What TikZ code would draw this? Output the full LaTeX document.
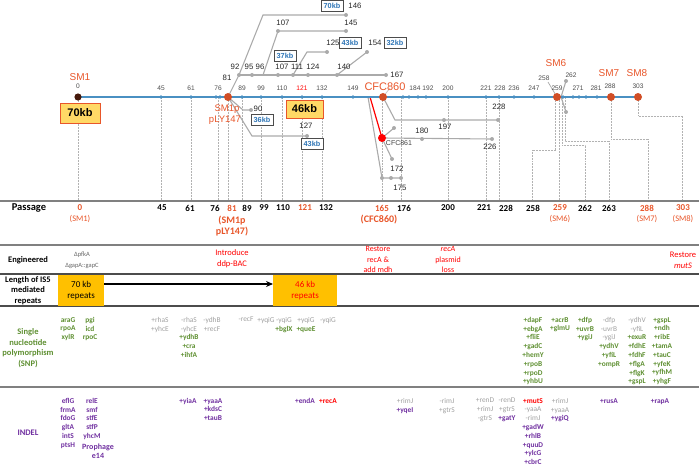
\documentclass[tikz,border=0pt]{standalone}
\usepackage{fontspec}
\setmainfont{Carlito}
\newfontfamily\arialf{Liberation Sans}
\usetikzlibrary{arrows.meta}
\definecolor{bl}{HTML}{4A90C2}
\definecolor{orng}{HTML}{E8562A}
\definecolor{snp}{HTML}{5E8F31}
\definecolor{pur}{HTML}{7030A0}
\definecolor{gtx}{HTML}{A0A0A0}
\definecolor{tl}{HTML}{AAAAAA}
\definecolor{kbb}{HTML}{2E75B6}
\definecolor{ylw}{HTML}{FFC000}
\definecolor{ylw2}{HTML}{FFD966}
\definecolor{rl}{HTML}{808080}
\definecolor{rd}{HTML}{FF0000}
\newcommand\gn[1]{\textcolor{snp}{\bfseries #1}}
\newcommand\gy[1]{\textcolor{gtx}{#1}}
\newcommand\pu[1]{\textcolor{pur}{\bfseries #1}}
\newcommand\rdd[1]{\textcolor{rd}{\bfseries #1}}
\begin{document}
\begin{tikzpicture}[x=1pt,y=-1pt,
  nl/.style={font=\arialf\fontsize{6.6}{7}\selectfont, text=black!70, inner sep=0},
  tlab/.style={font=\arialf\fontsize{7.8}{8}\selectfont, text=black!85, inner sep=0},
  sml/.style={font=\arialf\fontsize{10}{11}\selectfont, text=orng, inner sep=0},
  kbbox/.style={draw=black!70, line width=0.6, fill=white, text=kbb, font=\arialf\bfseries\fontsize{7.3}{8}\selectfont, inner sep=0, minimum width=22, minimum height=11},
  ybox/.style={draw=orng, line width=0.8, fill=ylw2, font=\arialf\bfseries\fontsize{11}{12}\selectfont, inner sep=0},
  tline/.style={tl, line width=1.1},
  dl/.style={black!30, densely dotted, line width=0.5},
  rowline/.style={rl, line width=1.3},
  pl/.style={font=\bfseries\fontsize{9}{10}\selectfont, inner sep=0},
  rowlab/.style={font=\bfseries\fontsize{8.5}{10.5}\selectfont, align=center, inner sep=0},
  gcol/.style={font=\fontsize{7.4}{8.8}\selectfont, align=center, anchor=north, inner sep=0},
  redtxt/.style={font=\fontsize{8}{10.5}\selectfont, text=rd, align=center, inner sep=0}
]
\useasboundingbox (0,0) rectangle (699,468);

% ---------- dotted drop lines ----------
\foreach \x in {78,161,191,218,228,242,261,282,302,322,382,401,448,486,499,559}
  \draw[dl] (\x,97) -- (\x,201);
\draw[dl] (555,97) -- (555,150) -- (532,150) -- (532,201);
\draw[dl] (562,97) -- (562,145) -- (585,145) -- (585,201);
\draw[dl] (565,97) -- (565,141) -- (609,141) -- (609,201);
\draw[dl] (611,97) -- (611,139) -- (648,139) -- (648,201);
\draw[dl] (638,97) -- (638,116) -- (682,116) -- (682,201);

% ---------- tree above ----------
\coordinate (sm1p) at (228,97);
\coordinate (a92) at (239,75);
\coordinate (a95) at (252,75);
\coordinate (a96) at (263,75);
\coordinate (a107) at (278,75);
\coordinate (a111) at (293,75);
\coordinate (a124) at (308,75);
\coordinate (a140) at (337,75);
\coordinate (a167) at (386,75);
\coordinate (b1) at (263,15);
\coordinate (b146) at (346,15);
\coordinate (c1) at (278,31);
\coordinate (c145) at (346,31);
\coordinate (d1) at (307,52);
\coordinate (d125) at (327,52);
\coordinate (e154) at (367,52);
\coordinate (f1) at (243,110);
\coordinate (f90) at (251,110);
\coordinate (g1) at (252,136);
\coordinate (g127) at (307,136);
\draw[tline] (sm1p) -- (a92) -- (b1) -- (b146);
\draw[tline] (a92) -- (a167);
\draw[tline] (a96) -- (c1) -- (c145);
\draw[tline] (a111) -- (d1) -- (d125);
\draw[tline] (a140) -- (e154);
\draw[tline] (sm1p) -- (f1) -- (f90);
\draw[tline] (sm1p) -- (g1) -- (g127);
\foreach \c in {a92,a95,a107,a111,a124,a140,a167,b146,c1,c145,d125,e154,f90,g127}
  \fill[tl] (\c) circle (2);

% ---------- CFC860 branch ----------
\coordinate (cfc) at (383,97);
\coordinate (cfcst) at (370,97);
\coordinate (cfcst2) at (368,97);
\coordinate (h1) at (395,120);
\coordinate (h197) at (444,120);
\coordinate (h228) at (498,120);
\coordinate (c861) at (382,138);
\coordinate (k180) at (422,139);
\coordinate (k226) at (492,139);
\coordinate (kup) at (394,128);
\coordinate (k172) at (392,159);
\coordinate (m1) at (382,178);
\coordinate (m2) at (391,178);
\coordinate (m175) at (401,178);
\coordinate (cup) at (390,88);
\draw[tline] (cfc) -- (h1) -- (h228);
\draw[tline] (c861) -- (k226);
\draw[tline] (c861) -- (kup);
\draw[tline] (c861) -- (k172);
\draw[tline] (cfcst2) -- (m1) -- (m175);
\draw[black!20, line width=0.8] (cfc) -- (cup);
\draw[rd, line width=1.2] (cfcst) -- (c861);
\foreach \c in {h197,h228,k180,k226,kup,k172,m1,m2,m175}
  \fill[tl] (\c) circle (2);

% ---------- SM6 branch ----------
\coordinate (sm6) at (557,97);
\coordinate (n258) at (548,82);
\coordinate (n262) at (566,81);
\coordinate (nmid) at (561,97);
\coordinate (nlow) at (566,112);
\draw[tl, line width=0.7] (n258) -- (sm6);
\draw[tline] (n262) -- (nmid) -- (nlow);
\fill[tl] (n262) circle (2);
\fill[tl] (nlow) circle (2);

% ---------- main line ----------
\coordinate (mstart) at (78,97);
\coordinate (mend) at (638,97);
\draw[bl, line width=1.5] (mstart) -- (mend);
\foreach \x in {161,191,216,220,242,261,282,302,322,353,403,409,418,426,448,486,499,514,534,563,573,579,586,597}
  \fill[bl] (\x,97) circle (1.8);
\fill[black!70!orng] (mstart) circle (3.6);
\foreach \x in {228,383,557,611,638}
  \fill[orng!90!black] (\x,97) circle (4);
\fill[rd] (c861) circle (4);

% ---------- labels on main line ----------
\foreach \x/\t in {161/45,191/61,218/76,242/89,261/99,282/110,322/132,353/149,415/184,428/192,448/200,486/221,500/228,514/236,534/247,557/259,578/271,596/281}
  \node[nl] (L\t) at (\x,88) {\t};
\node[nl] (L0) at (78,86) {0};
\node[nl, text=rd] (L121) at (302,88) {121};
\node[nl] (L288) at (610,86) {288};
\node[nl] (L303) at (638,86) {303};
\node[nl] (L258) at (544,78) {258};
\node[nl] (L262) at (571,75) {262};

\node[sml] (tSM1) at (80,77) {SM1};
\node[sml] (tSM6) at (556,63) {SM6};
\node[sml] (tSM7) at (609,73) {SM7};
\node[sml] (tSM8) at (637,73) {SM8};
\node[sml, font=\arialf\fontsize{11}{12}\selectfont] (tCFC) at (385,87) {CFC860};
\node[sml, font=\arialf\fontsize{9.5}{10}\selectfont] (tSM1p) at (227,109) {SM1p};
\node[sml, font=\arialf\fontsize{9.5}{10}\selectfont] (tPLY) at (225,120) {pLY147};
\node[tlab, font=\arialf\fontsize{7}{7}\selectfont, text=black!75] (tC861) at (399,143) {CFC861};

% tree labels
\node[tlab] (l81) at (227,78) {81};
\node[tlab] (l92) at (235,67) {92};
\node[tlab] (l95) at (249,67) {95};
\node[tlab] (l96) at (260,67) {96};
\node[tlab] (l107) at (282,67) {107};
\node[tlab] (l111) at (297,67) {111};
\node[tlab] (l124) at (313,67) {124};
\node[tlab] (l140) at (344,67) {140};
\node[tlab] (l167) at (397,75) {167};
\node[tlab] (l107b) at (283,23) {107};
\node[tlab] (l145) at (351,23) {145};
\node[tlab] (l146) at (355,6) {146};
\node[tlab] (l125) at (333,43) {125};
\node[tlab] (l154) at (375,43) {154};
\node[tlab] (l90) at (258,109) {90};
\node[tlab] (l127) at (306,126) {127};
\node[tlab] (l197) at (445,127) {197};
\node[tlab] (l228) at (499,107) {228};
\node[tlab] (l180) at (422,131) {180};
\node[tlab] (l226) at (490,147) {226};
\node[tlab] (l172) at (397,169) {172};
\node[tlab] (l175) at (400,188) {175};

% kb boxes
\node[kbbox] (k70) at (332,6) {70kb};
\node[kbbox] (k37) at (285,56) {37kb};
\node[kbbox] (k43a) at (350,43) {43kb};
\node[kbbox] (k32) at (395,43) {32kb};
\node[kbbox] (k36) at (262,120) {36kb};
\node[kbbox] (k43b) at (312,144) {43kb};
\node[ybox, minimum width=40, minimum height=20] (y70) at (80,113) {70kb};
\node[ybox, minimum width=37, minimum height=18] (y46) at (304.5,109) {46kb};

% ---------- table lines ----------
\draw[rowline] (0,201) -- (699,201);
\draw[rowline] (0,245) -- (699,245);
\draw[rowline, black!70] (0,274) -- (699,274);
\draw[rowline, black!70] (0,306) -- (699,306);
\draw[rowline] (0,387) -- (699,387);

% passage row
\node[pl, font=\bfseries\fontsize{10.5}{11}\selectfont] (hPass) at (29,208) {Passage};
\foreach \x/\t in {162/45,190/61,215/76,247/89,264/99,283/110,326/132,404/176,448/200,484/221,506/228,533/258,585/262,609/263}
  \node[pl] (P\t) at (\x,208) {\t};
\foreach \x/\t in {80/0,232/81,305/121,382/165,560/259,647/288,683/303}
  \node[pl, text=orng] (P\t) at (\x,208) {\t};
\node[pl, text=orng, font=\fontsize{8.5}{9}\selectfont] (pSM1) at (80,219) {(SM1)};
\node[pl, text=orng, font=\bfseries\fontsize{10}{11}\selectfont, align=center] (pSM1p) at (232,226.5) {(SM1p\\pLY147)};
\node[pl, text=orng, font=\bfseries\fontsize{10}{10}\selectfont] (pCFC) at (379,220) {(CFC860)};
\node[pl, text=orng, font=\fontsize{8.5}{9}\selectfont] (pSM6) at (560,219) {(SM6)};
\node[pl, text=orng, font=\fontsize{8.5}{9}\selectfont] (pSM7) at (647,219) {(SM7)};
\node[pl, text=orng, font=\fontsize{8.5}{9}\selectfont] (pSM8) at (683,219) {(SM8)};

% engineered row
\node[rowlab] (hEng) at (28,260) {Engineered};
\node[font=\fontsize{6.5}{11}\selectfont, text=black!60, align=center, inner sep=0] (eng1) at (82,260.5) {ΔpfkA\\ΔgapA::gapC};
\node[redtxt, font=\fontsize{8.5}{11}\selectfont] (eng2) at (232,258.5) {Introduce\\ddp-BAC};
\node[redtxt] (eng3) at (378,259.5) {Restore\\recA \&\\add mdh};
\node[redtxt] (eng4) at (448,259.5) {\textit{recA}\\plasmid\\loss};
\node[redtxt, font=\fontsize{8.5}{10.5}\selectfont] (eng5) at (683,260.5) {Restore\\\textit{mutS}};

% repeats row
\node[rowlab] (hLen) at (28,290.5) {Length of IS5\\mediated\\repeats};
\node[fill=ylw, minimum width=46, minimum height=31, inner sep=0, anchor=north west] (r70) at (58,275) {};
\node[font=\fontsize{9}{11}\selectfont, align=center, inner sep=0] (r70t) at (r70.center) {70 kb\\repeats};
\node[fill=ylw, minimum width=64, minimum height=31, inner sep=0, anchor=north west] (r46) at (273,275) {};
\node[font=\fontsize{9}{11}\selectfont, align=center, text=rd, inner sep=0] (r46t) at (r46.center) {46 kb\\repeats};
\draw[line width=1.5, -{Stealth[length=7pt,width=6pt]}] (r70.east |- 0,284) -- (r46.west |- 0,284);

% SNP row
\node[rowlab, text=snp] (hSNP) at (28,348) {Single\\nucleotide\\polymorphism\\(SNP)};
\node[gcol] (s1) at (68,317) {\gn{araG}\\\gn{rpoA}\\\gn{xylR}};
\node[gcol] (s2) at (90,317) {\gn{pgi}\\\gn{icd}\\\gn{rpoC}};
\node[gcol] (s3) at (160,317) {\gy{+rhaS}\\\gy{+yhcE}};
\node[gcol] (s4) at (189,317) {\gy{-rhaS}\\\gy{-yhcE}\\\gn{+ydhB}\\\gn{+cra}\\\gn{+ihfA}};
\node[gcol] (s5) at (212,317) {\gy{-ydhB}\\\gy{+recF}};
\node[gcol] (s6) at (246,317) {\gy{-recF}};
\node[gcol] (s7) at (266,317) {\gy{+yqiG}};
\node[gcol] (s8) at (284,317) {\gy{-yqiG}\\\gn{+bglX}};
\node[gcol] (s9) at (306,317) {\gy{+yqiG}\\\gn{+queE}};
\node[gcol] (s10) at (328,317) {\gy{-yqiG}};
\node[gcol] (s11) at (533,317) {\gn{+dapF}\\\gn{+ebgA}\\\gn{+fliE}\\\gn{+gadC}\\\gn{+hemY}\\\gn{+rpoB}\\\gn{+rpoD}\\\gn{+yhbU}};
\node[gcol] (s12) at (560,317) {\gn{+acrB}\\\gn{+glmU}};
\node[gcol] (s13) at (585,317) {\gn{+dfp}\\\gn{+uvrB}\\\gn{+ygiJ}};
\node[gcol] (s14) at (609,317) {\gy{-dfp}\\\gy{-uvrB}\\\gy{-ygiJ}\\\gn{+ydhV}\\\gn{+yfiL}\\\gn{+ompR}};
\node[gcol] (s15) at (637,317) {\gy{-ydhV}\\\gy{-yfiL}\\\gn{+exuR}\\\gn{+fdhE}\\\gn{+fdhF}\\\gn{+flgA}\\\gn{+flgK}\\\gn{+gspL}};
\node[gcol] (s16) at (662,317) {\gn{+gspL}\\\gn{+ndh}\\\gn{+ribE}\\\gn{+tamA}\\\gn{+tauC}\\\gn{+yfeK}\\\gn{+yfhM}\\\gn{+yhgF}};

% INDEL row
\node[rowlab, text=pur] (hIndel) at (28,433) {INDEL};
\node[gcol] (i1) at (68,398) {\pu{eflG}\\\pu{frmA}\\\pu{fdoG}\\\pu{gltA}\\\pu{intS}\\\pu{ptsH}};
\node[gcol] (i2) at (92,398) {\pu{relE}\\\pu{smf}\\\pu{stfE}\\\pu{stfP}\\\pu{yhcM}};
\node[gcol, font=\fontsize{8}{9}\selectfont] (i2b) at (98,444) {\pu{Prophage}\\\pu{e14}};
\node[gcol] (i3) at (188,398) {\pu{+yiaA}};
\node[gcol] (i4) at (213,398) {\pu{+yaaA}\\\pu{+kdsC}\\\pu{+tauB}};
\node[gcol] (i5) at (305,398) {\pu{+endA}};
\node[gcol] (i6) at (328,398) {\rdd{+recA}};
\node[gcol] (i7) at (405,398) {\gy{+rimJ}\\\pu{+yqeI}};
\node[gcol] (i8) at (447,398) {\gy{-rimJ}\\\gy{+gtrS}};
\node[gcol] (i9) at (485,398) {\gy{+renD}\\\gy{+rimJ}\\\gy{-gtrS}};
\node[gcol] (i10) at (507,398) {\gy{-renD}\\\gy{+gtrS}\\\pu{+gatY}};
\node[gcol] (i11) at (533,398) {\rdd{+mutS}\\\gy{-yaaA}\\\gy{-rimJ}\\\pu{+gadW}\\\pu{+rhlB}\\\pu{+quuD}\\\pu{+ylcG}\\\pu{+cbrC}};
\node[gcol] (i12) at (560,398) {\gy{+rimJ}\\\gy{+yaaA}\\\pu{+ygiQ}};
\node[gcol] (i13) at (609,398) {\pu{+rusA}};
\node[gcol] (i14) at (660,398) {\pu{+rapA}};
\end{tikzpicture}
\end{document}
